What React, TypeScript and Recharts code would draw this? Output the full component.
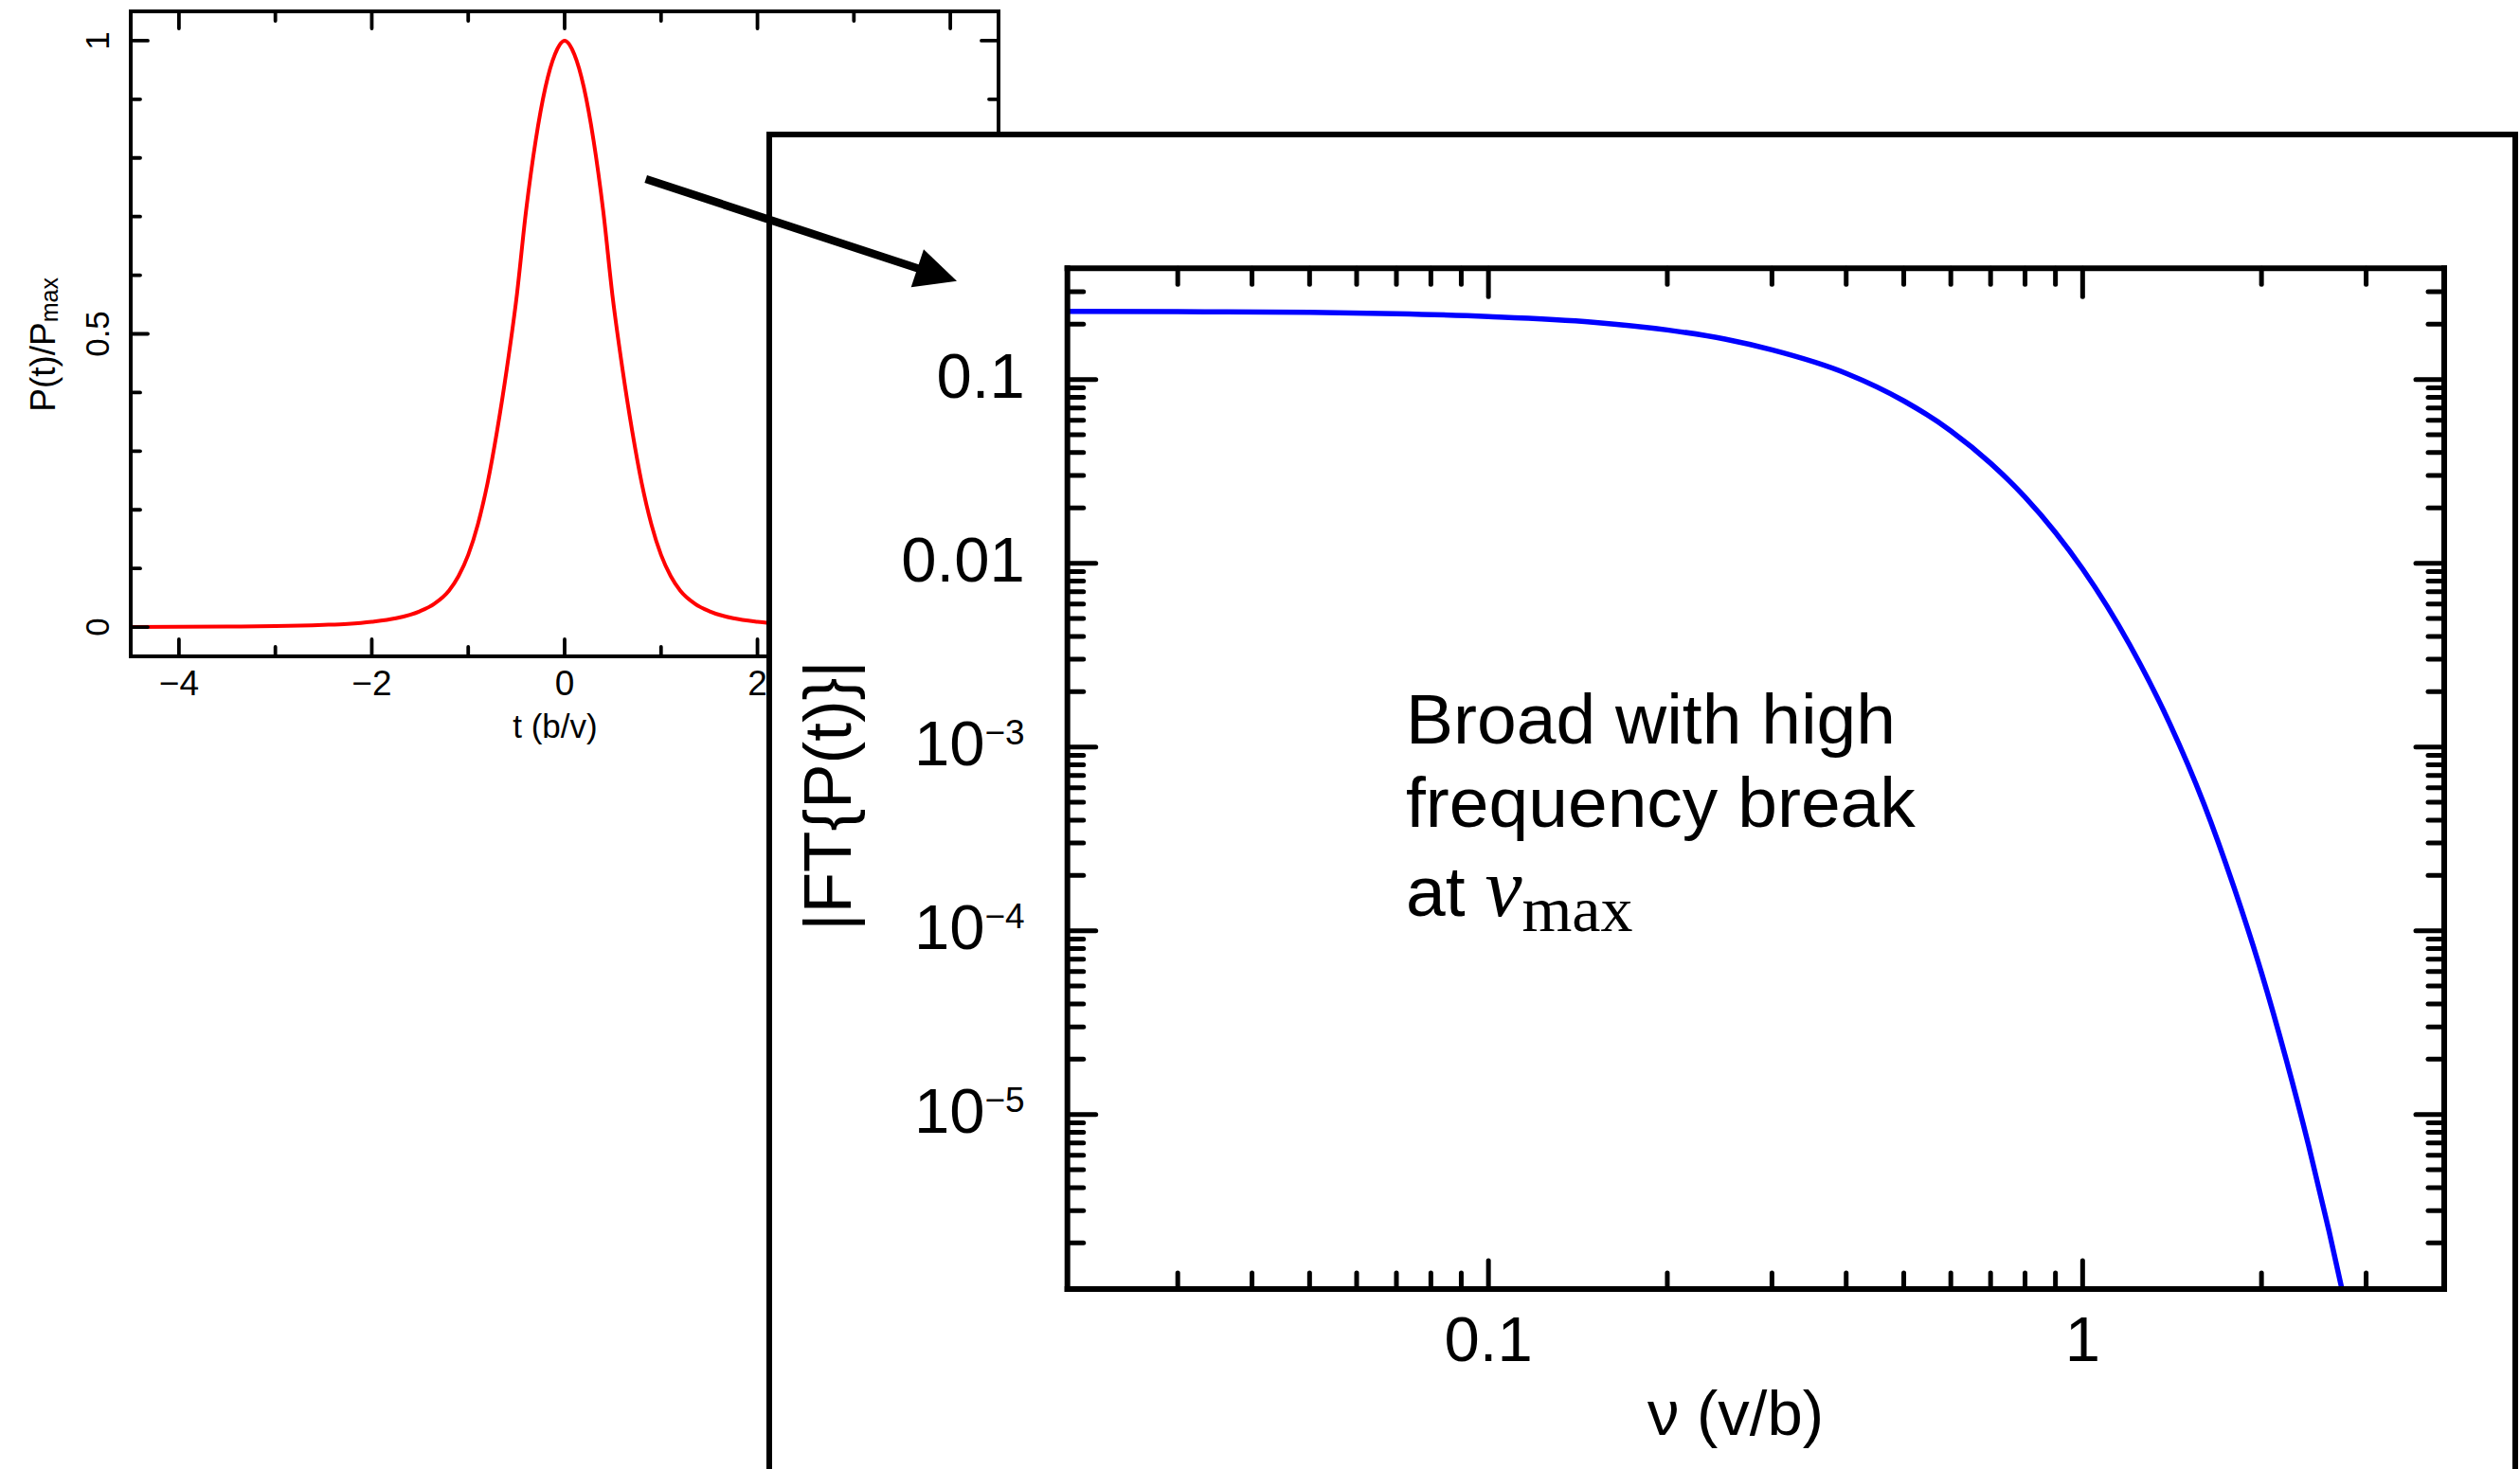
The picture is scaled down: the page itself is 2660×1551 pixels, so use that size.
import React from 'react';
import { LineChart, Line, XAxis, YAxis } from 'recharts';

// left panel: pulse profile P(t)/Pmax
const tValues = [
  -4.5, -4, -3.5, -3, -2.5, -2.25, -2, -1.75, -1.5, -1.35, -1.2, -1.1, -1, -0.9, -0.8, -0.7, -0.6, -0.5,
  -0.4, -0.3, -0.2, -0.1, 0, 0.1, 0.2, 0.3, 0.4, 0.5, 0.6, 0.7, 0.8, 0.9, 1, 1.1, 1.2, 1.35, 1.5, 1.75, 2,
  2.25, 2.5, 3, 3.5, 4, 4.5,
];
const pValues = [
  0.0002, 0.0004, 0.0008, 0.0015, 0.0037, 0.0055, 0.009, 0.015, 0.027, 0.04, 0.062, 0.087, 0.123, 0.175,
  0.245, 0.335, 0.44, 0.56, 0.71, 0.83, 0.92, 0.977, 1, 0.977, 0.92, 0.83, 0.71, 0.56, 0.44, 0.335, 0.245,
  0.175, 0.123, 0.087, 0.062, 0.04, 0.027, 0.015, 0.009, 0.0055, 0.0037, 0.0015, 0.0008, 0.0004, 0.0002,
];

// right panel: |FT{P(t)}| against frequency
const nuValues = [
  0.0196, 0.03, 0.05, 0.07, 0.1, 0.15, 0.2, 0.25, 0.3, 0.4, 0.5, 0.6, 0.7, 0.8, 0.9, 1, 1.2, 1.4, 1.6, 1.8,
  2, 2.2, 2.4, 2.6, 2.8,
];
const ftValues = [
  0.235, 0.234, 0.232, 0.228, 0.22, 0.205, 0.186, 0.166, 0.145, 0.108, 0.0765, 0.0525, 0.035, 0.0229,
  0.0147, 0.0093, 0.0036, 0.00135, 0.00049, 0.00017, 0.000059, 0.00002, 0.0000068, 0.0000023,
  0.00000078,
];

const smallXTicks = [-4, -3, -2, -1, 0, 1, 2, 3, 4];
const smallXMajor = [-4, -2, 0, 2, 4];
const smallXLabels = ['\u22124', '\u22122', '0', '2', '4'];
const smallYTicks = [0, 0.1, 0.2, 0.3, 0.4, 0.5, 0.6, 0.7, 0.8, 0.9, 1];
const smallYMajor = [0, 0.5, 1];
const smallYLabels = ['0', '0.5', '1'];

const bigXTicks = [
  0.03, 0.04, 0.05, 0.06, 0.07, 0.08, 0.09, 0.1, 0.2, 0.3, 0.4, 0.5, 0.6, 0.7, 0.8, 0.9, 1, 2, 3,
];
const bigXMajor = [0.1, 1];
const bigXLabels = ['0.1', '1'];
const bigYTicks = [
  2e-6, 3e-6, 4e-6, 5e-6, 6e-6, 7e-6, 8e-6, 9e-6,
  1e-5, 2e-5, 3e-5, 4e-5, 5e-5, 6e-5, 7e-5, 8e-5, 9e-5,
  1e-4, 2e-4, 3e-4, 4e-4, 5e-4, 6e-4, 7e-4, 8e-4, 9e-4,
  1e-3, 2e-3, 3e-3, 4e-3, 5e-3, 6e-3, 7e-3, 8e-3, 9e-3,
  0.01, 0.02, 0.03, 0.04, 0.05, 0.06, 0.07, 0.08, 0.09,
  0.1, 0.2, 0.3,
];
const bigYMajor = [0.1, 0.01, 1e-3, 1e-4, 1e-5];
const bigYBase = ['0.1', '0.01', '10', '10', '10'];
const bigYExp = ['', '', '\u22123', '\u22124', '\u22125'];

const SANS = '"Liberation Sans", Arial, Helvetica, sans-serif';
const SERIF = '"Liberation Serif", "Times New Roman", serif';

const smallData = tValues.map((t, i) => ({ t, p: pValues[i] }));
const bigData = nuValues.map((nu, i) => ({ nu, ft: ftValues[i] }));

const near = (a: number, b: number) => Math.abs(a - b) < 1e-9;
const nearLog = (a: number, b: number) => Math.abs(Math.log10(a) - Math.log10(b)) < 1e-6;

const DIRS: Record<string, [number, number]> = {
  bottom: [0, -1],
  top: [0, 1],
  left: [1, 0],
  right: [-1, 0],
};

function mark(side: string, x: number, y: number, len: number, w: number) {
  const [dx, dy] = DIRS[side];
  return (
    <line x1={x} y1={y} x2={x + dx * len} y2={y + dy * len} stroke="#000" strokeWidth={w} strokeLinecap="round" />
  );
}

// small panel ticks
const smallTick = (side: string) => (props: any) => {
  const { x, y, payload } = props;
  const v = payload.value;
  if (side === 'bottom' || side === 'top') {
    const k = smallXMajor.findIndex((m) => near(m, v));
    return (
      <g>
        {mark(side, x, y, k >= 0 ? 18 : 10, 3.8)}
        {side === 'bottom' && k >= 0 && (
          <text x={x} y={y + 41} textAnchor="middle" fontSize={37} fontFamily={SANS} fill="#000">
            {smallXLabels[k]}
          </text>
        )}
      </g>
    );
  }
  const k = smallYMajor.findIndex((m) => near(m, v));
  return (
    <g>
      {mark(side, x, y, k >= 0 ? 18 : 10, 3.8)}
      {side === 'left' && k >= 0 && (
        <text
          transform={`translate(${x - 23},${y}) rotate(-90)`}
          textAnchor="middle"
          fontSize={35}
          fontFamily={SANS}
          fill="#000"
        >
          {smallYLabels[k]}
        </text>
      )}
    </g>
  );
};

// big panel ticks
const bigTick = (side: string) => (props: any) => {
  const { x, y, payload } = props;
  const v = payload.value;
  if (side === 'bottom' || side === 'top') {
    const k = bigXMajor.findIndex((m) => nearLog(m, v));
    return (
      <g>
        {mark(side, x, y, k >= 0 ? 30 : 17, 5)}
        {side === 'bottom' && k >= 0 && (
          <text x={x} y={y + 76} textAnchor="middle" fontSize={67} fontFamily={SANS} fill="#000">
            {bigXLabels[k]}
          </text>
        )}
      </g>
    );
  }
  const k = bigYMajor.findIndex((m) => nearLog(m, v));
  return (
    <g>
      {mark(side, x, y, k >= 0 ? 30 : 17, 5)}
      {side === 'left' && k >= 0 && (
        <text x={x - 45} y={y + 19} textAnchor="end" fontSize={67} fontFamily={SANS} fill="#000">
          {bigYBase[k]}
          {bigYExp[k] && (
            <tspan fontSize={37} dy={-22}>
              {bigYExp[k]}
            </tspan>
          )}
        </text>
      )}
    </g>
  );
};

const frameLine = { stroke: '#000', strokeWidth: 4, strokeLinecap: 'square' as const };
const bigFrameLine = { stroke: '#000', strokeWidth: 6, strokeLinecap: 'square' as const };

// axes get a 1px band (a 0px band is not drawn), so margins are 1px smaller than the plot edges
function SmallChart() {
  return (
    <div style={{ position: 'absolute', left: 0, top: 0 }}>
      <LineChart width={1100} height={800} data={smallData} margin={{ top: 11, left: 137, right: 45, bottom: 106 }}>
        <XAxis
          dataKey="t"
          type="number"
          domain={[-4.5, 4.5]}
          ticks={smallXTicks}
          interval={0}
          allowDataOverflow
          height={1}
          tickSize={0}
          tickMargin={0}
          tickLine={false}
          axisLine={frameLine}
          tick={smallTick('bottom')}
        />
        <XAxis
          xAxisId="top"
          orientation="top"
          dataKey="t"
          type="number"
          domain={[-4.5, 4.5]}
          ticks={smallXTicks}
          interval={0}
          allowDataOverflow
          height={1}
          tickSize={0}
          tickMargin={0}
          tickLine={false}
          axisLine={frameLine}
          tick={smallTick('top')}
        />
        <YAxis
          type="number"
          domain={[-0.05, 1.05]}
          ticks={smallYTicks}
          interval={0}
          allowDataOverflow
          width={1}
          tickSize={0}
          tickMargin={0}
          tickLine={false}
          axisLine={frameLine}
          tick={smallTick('left')}
        />
        <YAxis
          yAxisId="r"
          orientation="right"
          type="number"
          domain={[-0.05, 1.05]}
          ticks={smallYTicks}
          interval={0}
          allowDataOverflow
          width={1}
          tickSize={0}
          tickMargin={0}
          tickLine={false}
          axisLine={frameLine}
          tick={smallTick('right')}
        />
        <Line
          dataKey="p"
          type="monotone"
          stroke="#ff0000"
          strokeWidth={4}
          dot={false}
          activeDot={false}
          isAnimationActive={false}
        />
        <Line
          xAxisId="top"
          yAxisId="r"
          dataKey="p"
          stroke="none"
          dot={false}
          activeDot={false}
          isAnimationActive={false}
        />
      </LineChart>
    </div>
  );
}

function BigChart() {
  return (
    <div style={{ position: 'absolute', left: 0, top: 0 }}>
      <LineChart width={2660} height={1551} data={bigData} margin={{ top: 282.3, left: 1125.7, right: 79, bottom: 189 }}>
        <XAxis
          dataKey="nu"
          type="number"
          scale="log"
          domain={[0.01956, 4.06]}
          ticks={bigXTicks}
          interval={0}
          allowDataOverflow
          height={1}
          tickSize={0}
          tickMargin={0}
          tickLine={false}
          axisLine={bigFrameLine}
          tick={bigTick('bottom')}
        />
        <XAxis
          xAxisId="top"
          orientation="top"
          dataKey="nu"
          type="number"
          scale="log"
          domain={[0.01956, 4.06]}
          ticks={bigXTicks}
          interval={0}
          allowDataOverflow
          height={1}
          tickSize={0}
          tickMargin={0}
          tickLine={false}
          axisLine={bigFrameLine}
          tick={bigTick('top')}
        />
        <YAxis
          type="number"
          scale="log"
          domain={[1.122e-6, 0.4027]}
          ticks={bigYTicks}
          interval={0}
          allowDataOverflow
          width={1}
          tickSize={0}
          tickMargin={0}
          tickLine={false}
          axisLine={bigFrameLine}
          tick={bigTick('left')}
        />
        <YAxis
          yAxisId="r"
          orientation="right"
          type="number"
          scale="log"
          domain={[1.122e-6, 0.4027]}
          ticks={bigYTicks}
          interval={0}
          allowDataOverflow
          width={1}
          tickSize={0}
          tickMargin={0}
          tickLine={false}
          axisLine={bigFrameLine}
          tick={bigTick('right')}
        />
        <Line
          dataKey="ft"
          type="monotone"
          stroke="#0000ff"
          strokeWidth={5.5}
          dot={false}
          activeDot={false}
          isAnimationActive={false}
        />
        <Line
          xAxisId="top"
          yAxisId="r"
          dataKey="ft"
          stroke="none"
          dot={false}
          activeDot={false}
          isAnimationActive={false}
        />
      </LineChart>
    </div>
  );
}

export default function App() {
  return (
    <div
      style={{
        position: 'absolute',
        left: 0,
        top: 0,
        width: 2660,
        height: 1551,
        overflow: 'hidden',
        background: '#fff',
      }}
    >
      <SmallChart />
      <svg width={2660} height={1551} style={{ position: 'absolute', left: 0, top: 0 }}>
        <text
          transform="translate(58,293) rotate(-90)"
          textAnchor="end"
          fontSize={37}
          fontFamily={SANS}
          fill="#000"
        >
          P(t)/P
          <tspan fontSize={25} dy={3}>
            max
          </tspan>
        </text>
        <text x={586} y={779} textAnchor="middle" fontSize={35} fontFamily={SANS} fill="#000">
          t (b/v)
        </text>
      </svg>
      <div
        style={{
          position: 'absolute',
          left: 808.7,
          top: 139.3,
          width: 1849.5,
          height: 1412,
          boxSizing: 'border-box',
          border: '6px solid #000',
          borderBottom: 'none',
          background: '#fff',
        }}
      />
      <BigChart />
      <svg width={2660} height={1551} style={{ position: 'absolute', left: 0, top: 0 }}>
        <text
          transform="translate(898,840) rotate(-90)"
          textAnchor="middle"
          fontSize={71}
          fontFamily={SANS}
          fill="#000"
        >
          |FT{'{'}P(t){'}'}|
        </text>
        <text x={1832} y={1515} textAnchor="middle" fontSize={67} fontFamily={SANS} fill="#000">
          ν (v/b)
        </text>
        <g fontFamily={SANS} fontSize={75} fill="#000">
          <text x={1484} y={785}>Broad with high</text>
          <text x={1484} y={873}>frequency break</text>
          <text x={1484} y={967}>
            at{' '}
            <tspan fontFamily={SERIF} fontStyle="italic" fontSize={88}>
              ν
            </tspan>
            <tspan fontFamily={SERIF} fontSize={68} dy={16}>
              max
            </tspan>
          </text>
        </g>
        <line x1={681.7} y1={189} x2={970} y2={283.8} stroke="#000" strokeWidth={8.5} />
        <polygon points="1010,296.7 975,263.3 961.7,303.3" fill="#000" />
      </svg>
    </div>
  );
}
